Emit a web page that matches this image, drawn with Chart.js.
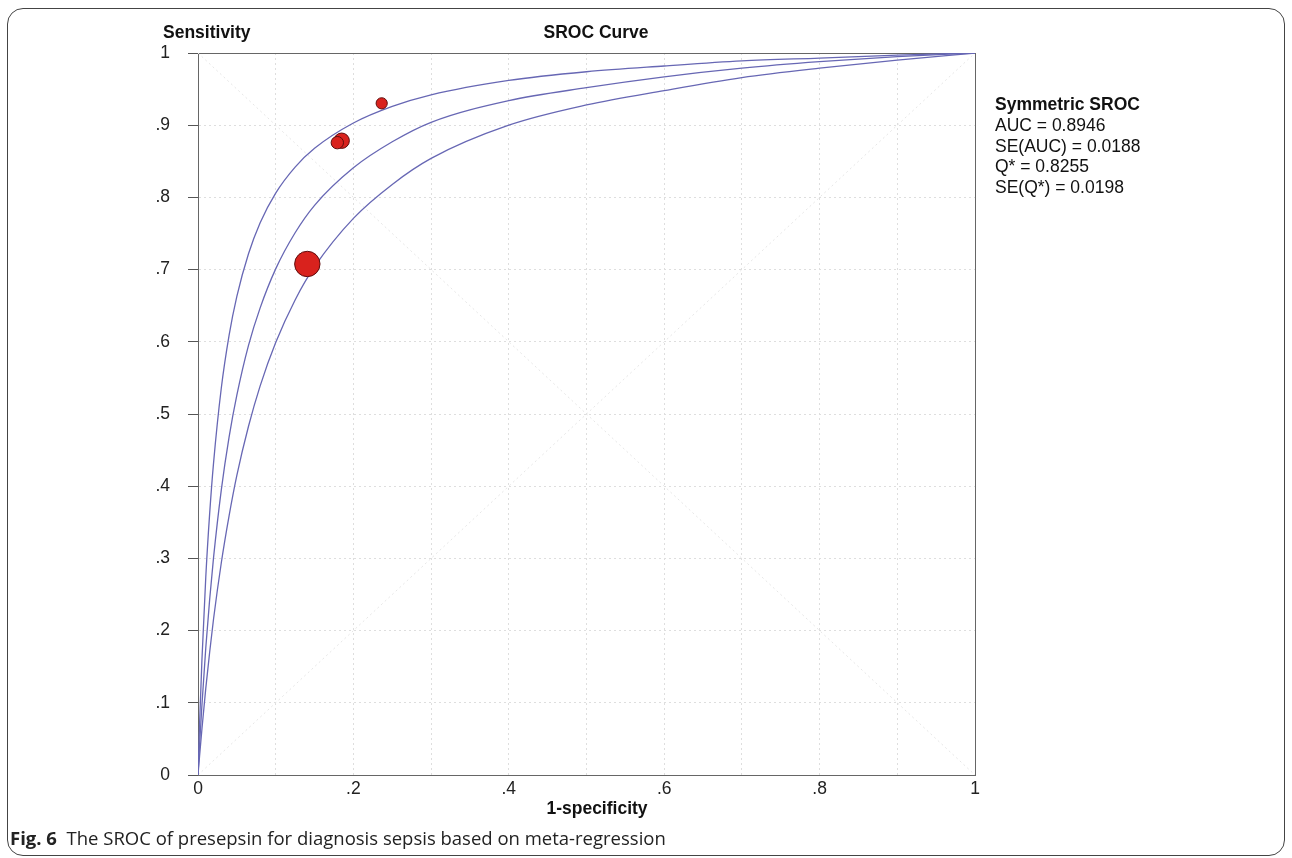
<!DOCTYPE html>
<html>
<head>
<meta charset="utf-8">
<script src="https://cdn.jsdelivr.net/npm/chart.js@4.4.1/dist/chart.umd.min.js"></script>
<style>
  body { margin: 0; background: #fff; width: 1292px; height: 858px; overflow: hidden; position: relative;
         font-family: "Liberation Sans", Arial, sans-serif; color: #111; }
  #frame { position: absolute; left: 7px; top: 8px; width: 1276px; height: 846px;
           border: 1.5px solid #444; border-radius: 16px; }
  #chartBox { position: absolute; left: 0; top: 0; width: 1292px; height: 858px; }
  .t { position: absolute; font-size: 17.5px; white-space: nowrap; }
  .b { font-weight: bold; }
  .c { transform: translate(-50%, -50%); }
  #legend { position: absolute; left: 995px; top: 94px; font-size: 17.5px; line-height: 20.8px; }
  #caption { position: absolute; left: 10px; top: 825px; font-family: "Open Sans", "Noto Sans", sans-serif;
             font-size: 18.5px; color: #222; white-space: nowrap; }
</style>
</head>
<body>
<div id="frame"></div>
<div id="chartBox"><canvas id="sroc" width="1292" height="858"></canvas></div>
<div class="t b" style="left:163px; top:22px;">Sensitivity</div>
<div class="t b c" style="left:596px; top:32px;">SROC Curve</div>
<div class="t b c" style="left:597px; top:808px;">1-specificity</div>
<div id="legend">
  <div class="b">Symmetric SROC</div>
  <div>AUC = 0.8946</div>
  <div>SE(AUC) = 0.0188</div>
  <div>Q* = 0.8255</div>
  <div>SE(Q*) = 0.0198</div>
</div>
<div id="caption"><b>Fig. 6</b>&nbsp; The SROC of presepsin for diagnosis sepsis based on meta-regression</div>
<script>
// SROC curves (1-specificity -> sensitivity)
const fprPts = [0, 0.002, 0.005, 0.01, 0.015, 0.02, 0.03, 0.04, 0.05, 0.065, 0.08, 0.1, 0.125, 0.15,
  0.2, 0.25, 0.3, 0.4, 0.5, 0.6, 0.7, 0.8, 0.9, 1];
const sensUpper = [0, 0.070, 0.158, 0.274, 0.362, 0.432, 0.536, 0.609, 0.663, 0.722, 0.765, 0.806, 0.842, 0.868,
  0.903, 0.926, 0.942, 0.962, 0.974, 0.982, 0.989, 0.993, 0.997, 1];
const sensMid = [0, 0.041, 0.096, 0.176, 0.243, 0.301, 0.395, 0.468, 0.526, 0.595, 0.647, 0.701, 0.751, 0.789,
  0.841, 0.877, 0.904, 0.934, 0.952, 0.967, 0.979, 0.988, 0.995, 1];
const sensLower = [0, 0.026, 0.063, 0.120, 0.170, 0.216, 0.294, 0.359, 0.415, 0.483, 0.539, 0.599, 0.658, 0.704,
  0.771, 0.818, 0.854, 0.900, 0.928, 0.948, 0.966, 0.979, 0.990, 1];

// individual studies
const studyFpr = [0.1407, 0.1849, 0.1793, 0.2364];
const studySens = [0.7078, 0.8785, 0.8758, 0.9303];
const studyWeight = [12.7, 7.7, 6.2, 5.6];

// reference diagonals
const diagX = [0, 1];
const diagRise = [0, 1];
const diagFall = [1, 0];

const pts = (xs, ys) => xs.map((x, i) => ({ x: x, y: ys[i] }));

const curveStyle = {
  type: 'line',
  borderColor: '#6767b4',
  borderWidth: 1.3,
  pointRadius: 0,
  cubicInterpolationMode: 'monotone',
  order: 1
};
const diagStyle = {
  type: 'line',
  borderColor: '#e6e6e6',
  borderWidth: 1,
  borderDash: [2, 3],
  pointRadius: 0,
  order: 2
};

// box round the plot area
const plotBox = {
  id: 'plotBox',
  beforeDatasetsDraw(chart) {
    const { ctx, chartArea: a } = chart;
    ctx.save();
    ctx.strokeStyle = '#666';
    ctx.lineWidth = 1;
    ctx.strokeRect(Math.round(a.left) + 0.5, Math.round(a.top) + 0.5, Math.round(a.width), Math.round(a.height));
    ctx.restore();
  }
};

Chart.defaults.font.family = '"Liberation Sans", Arial, sans-serif';
Chart.defaults.font.size = 17.5;
Chart.defaults.color = '#222';

const ctx = document.getElementById('sroc').getContext('2d');
const srocChart = new Chart(ctx, {
  type: 'scatter',
  data: {
    datasets: [
      {
        type: 'bubble',
        data: studyFpr.map((x, i) => ({ x: x, y: studySens[i], r: studyWeight[i] })),
        backgroundColor: '#d9221d',
        borderColor: '#5e0c0c',
        borderWidth: 1,
        order: 0
      },
      Object.assign({ data: pts(fprPts, sensUpper) }, curveStyle),
      Object.assign({ data: pts(fprPts, sensMid) }, curveStyle),
      Object.assign({ data: pts(fprPts, sensLower) }, curveStyle),
      Object.assign({ data: pts(diagX, diagRise) }, diagStyle),
      Object.assign({ data: pts(diagX, diagFall) }, diagStyle)
    ]
  },
  options: {
    responsive: false,
    animation: false,
    events: [],
    layout: { padding: { left: 0, top: 53, right: 317, bottom: 0 } },
    plugins: { legend: { display: false }, tooltip: { enabled: false } },
    scales: {
      x: {
        type: 'linear',
        min: 0, max: 1,
        afterFit: (s) => { s.height = 83; },
        ticks: {
          stepSize: 0.1,
          autoSkip: false,
          maxRotation: 0,
          padding: 4,
          callback: (v) => {
            const k = Math.round(v * 10);
            if (k % 2) return '';
            return k === 0 ? '0' : k === 10 ? '1' : '.' + k;
          }
        },
        grid: { color: '#dedede', drawTicks: false },
        border: { color: '#555', width: 1, dash: [2, 3] }
      },
      y: {
        type: 'linear',
        min: 0, max: 1,
        afterFit: (s) => { s.width = 198; },
        ticks: {
          stepSize: 0.1,
          autoSkip: false,
          padding: 18,
          callback: (v) => {
            const k = Math.round(v * 10);
            return k === 0 ? '0' : k === 10 ? '1' : '.' + k;
          }
        },
        grid: { color: '#dedede', tickLength: 10, tickColor: '#555', tickWidth: 1 },
        border: { color: '#666', width: 1, dash: [2, 3] }
      }
    }
  },
  plugins: [plotBox]
});
</script>
</body>
</html>
